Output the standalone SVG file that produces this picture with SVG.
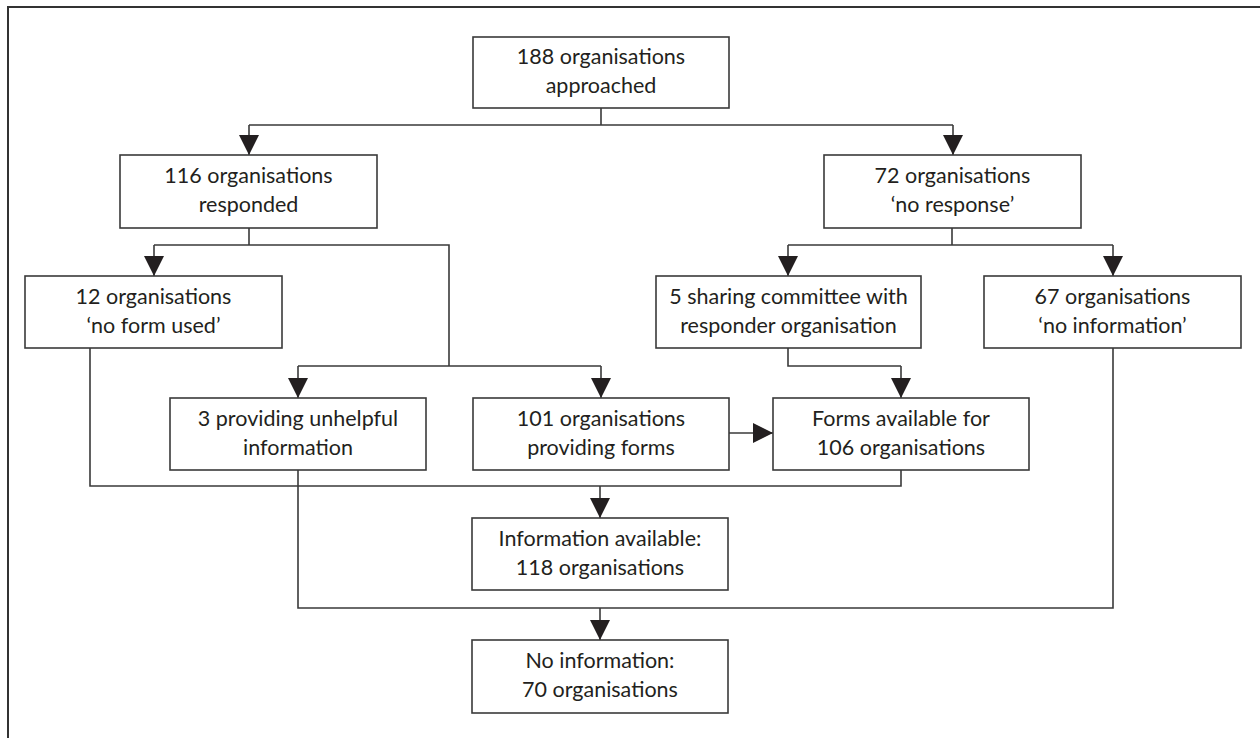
<svg xmlns="http://www.w3.org/2000/svg" width="1260" height="738" viewBox="0 0 1260 738">
<defs>
<marker id="arr" viewBox="0 0 20 20" markerWidth="20" markerHeight="20" refX="20" refY="10" orient="auto" markerUnits="userSpaceOnUse">
<path d="M0,0 L20,10 L0,20 Z" fill="#231f20"/>
</marker>
<style>
.box{fill:#fff;stroke:#3a3a3a;stroke-width:1.6}
.t{font-family:Lato,"Open Sans","Liberation Sans",sans-serif;font-size:21.5px;fill:#231f20;text-anchor:middle}
.c{fill:none;stroke:#3a3a3a;stroke-width:1.6}
.a{fill:none;stroke:#3a3a3a;stroke-width:1.6;marker-end:url(#arr)}
</style>
</defs>
<rect width="1260" height="738" fill="#fff"/>
<path d="M8,738 V7 H1260" fill="none" stroke="#333" stroke-width="2"/>
<g id="connectors">
<path class="c" d="M601,108 V125 M249,125 H953"/>
<path class="a" d="M249,125 V155"/>
<path class="a" d="M953,125 V155"/>
<path class="c" d="M249,228 V245 M154,245 H449 V366 M298,366 H601"/>
<path class="a" d="M154,245 V276"/>
<path class="a" d="M298,366 V398"/>
<path class="a" d="M601,366 V398"/>
<path class="c" d="M952,228 V245 M788,245 H1113"/>
<path class="a" d="M788,245 V276"/>
<path class="a" d="M1113,245 V276"/>
<path class="c" d="M788,348 V366 H901"/>
<path class="a" d="M901,366 V398"/>
<path class="a" d="M729,433 H773"/>
<path class="c" d="M90,348 V486 H901 V470"/>
<path class="a" d="M600,486 V518"/>
<path class="c" d="M298,470 V608 H1113 V348"/>
<path class="a" d="M600,608 V640"/>
</g>
<g id="n188"><rect class="box" x="473" y="37" width="256" height="71"/><text class="t" x="601" y="64">188 organisations</text><text class="t" x="601" y="93">approached</text></g>
<g id="n116"><rect class="box" x="120" y="155" width="257" height="73"/><text class="t" x="248.5" y="183">116 organisations</text><text class="t" x="248.5" y="212">responded</text></g>
<g id="n72"><rect class="box" x="824" y="155" width="257" height="73"/><text class="t" x="952.5" y="183">72 organisations</text><text class="t" x="952.5" y="212">‘no response’</text></g>
<g id="n12"><rect class="box" x="25" y="276" width="257" height="72"/><text class="t" x="153.5" y="304">12 organisations</text><text class="t" x="153.5" y="333">‘no form used’</text></g>
<g id="n5"><rect class="box" x="656" y="276" width="265" height="72"/><text class="t" x="788.5" y="304">5 sharing committee with</text><text class="t" x="788.5" y="333">responder organisation</text></g>
<g id="n67"><rect class="box" x="984" y="276" width="257" height="72"/><text class="t" x="1112.5" y="304">67 organisations</text><text class="t" x="1112.5" y="333">‘no information’</text></g>
<g id="n3"><rect class="box" x="170" y="398" width="256" height="72"/><text class="t" x="298" y="426">3 providing unhelpful</text><text class="t" x="298" y="455">information</text></g>
<g id="n101"><rect class="box" x="473" y="398" width="256" height="72"/><text class="t" x="601" y="426">101 organisations</text><text class="t" x="601" y="455">providing forms</text></g>
<g id="nforms"><rect class="box" x="773" y="398" width="256" height="72"/><text class="t" x="901" y="426">Forms available for</text><text class="t" x="901" y="455">106 organisations</text></g>
<g id="ninfo"><rect class="box" x="472" y="518" width="256" height="72"/><text class="t" x="600" y="546">Information available:</text><text class="t" x="600" y="575">118 organisations</text></g>
<g id="nnone"><rect class="box" x="472" y="640" width="256" height="73"/><text class="t" x="600" y="668">No information:</text><text class="t" x="600" y="697">70 organisations</text></g>
</svg>
